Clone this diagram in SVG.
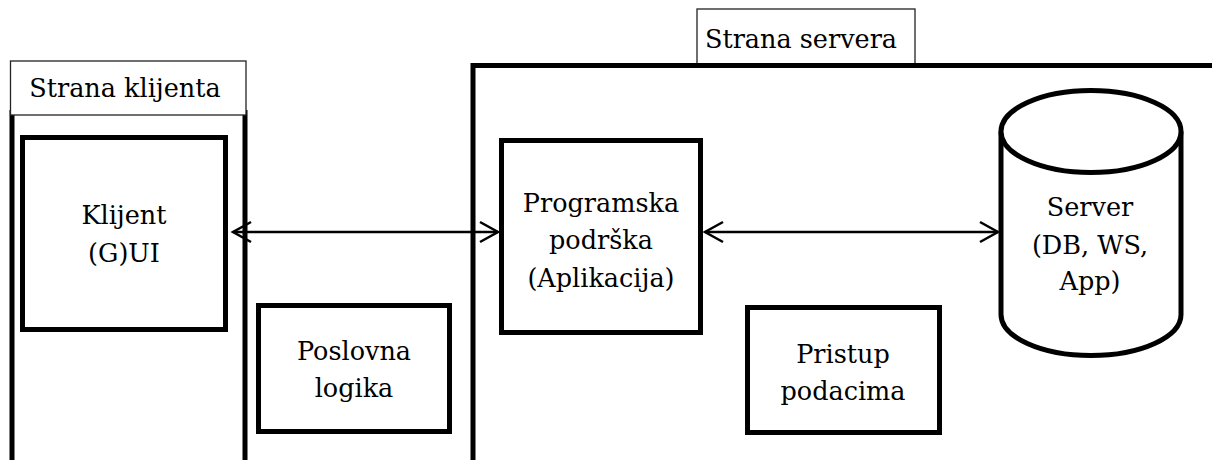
<svg xmlns="http://www.w3.org/2000/svg" width="1212" height="460" viewBox="0 0 1212 460">
<style>
.box{fill:#fff;stroke:#000;stroke-width:5}
.panel{fill:none;stroke:#000;stroke-width:5}
.tab{fill:#fff;stroke:#222;stroke-width:1.3}
.t{font-family:"DejaVu Serif",serif;font-size:25.5px;fill:#000;text-anchor:middle}
.conn{stroke:#000;stroke-width:2.5;fill:none}
</style>
<defs>
<marker id="ah" markerUnits="userSpaceOnUse" markerWidth="24" markerHeight="24" refX="20" refY="12" orient="auto-start-reverse" viewBox="0 0 24 24">
<path d="M2,2 L20,12 L2,22" fill="none" stroke="#000" stroke-width="2.5"/>
</marker>
</defs>
<rect width="1212" height="460" fill="#fff"/>
<g id="client-side">
<path class="panel" d="M12,110 V470 M245,110 V470"/>
<rect class="tab" x="10.5" y="61" width="235.5" height="54"/>
<text class="t" x="125" y="97">Strana klijenta</text>
</g>

<g id="server-side">
<rect class="tab" x="697" y="9" width="218" height="56"/>
<text class="t" x="801" y="48">Strana servera</text>
<rect class="panel" x="473" y="65.5" width="800" height="500"/>
</g>

<g id="klijent">
<rect class="box" x="22.5" y="137.5" width="203" height="192"/>
<text class="t" x="124" y="224">Klijent</text>
<text class="t" x="124" y="262">(G)UI</text>
</g>

<g id="poslovna">
<rect class="box" x="258.5" y="305.5" width="191" height="126"/>
<text class="t" x="354" y="360">Poslovna</text>
<text class="t" x="354" y="397">logika</text>
</g>

<g id="programska">
<rect class="box" x="501.5" y="140.5" width="199" height="192"/>
<text class="t" x="601" y="212">Programska</text>
<text class="t" x="601" y="249">podrška</text>
<text class="t" x="601" y="287">(Aplikacija)</text>
</g>

<g id="pristup">
<rect class="box" x="747.5" y="307.5" width="192" height="125"/>
<text class="t" x="843" y="363">Pristup</text>
<text class="t" x="843" y="400">podacima</text>
</g>

<g id="server">
<path class="box" d="M1001,131.5 V314.5 A90,41 0 0 0 1181,314.5 V131.5"/>
<ellipse class="box" cx="1091" cy="131.5" rx="90" ry="41"/>
<text class="t" x="1090" y="216">Server</text>
<text class="t" x="1090" y="254">(DB, WS,</text>
<text class="t" x="1090" y="290">App)</text>
</g>

<g id="connectors">
<line class="conn" x1="233" y1="232" x2="498" y2="232" marker-start="url(#ah)" marker-end="url(#ah)"/>
<line class="conn" x1="705" y1="232" x2="998" y2="232" marker-start="url(#ah)" marker-end="url(#ah)"/>
</g>
</svg>
